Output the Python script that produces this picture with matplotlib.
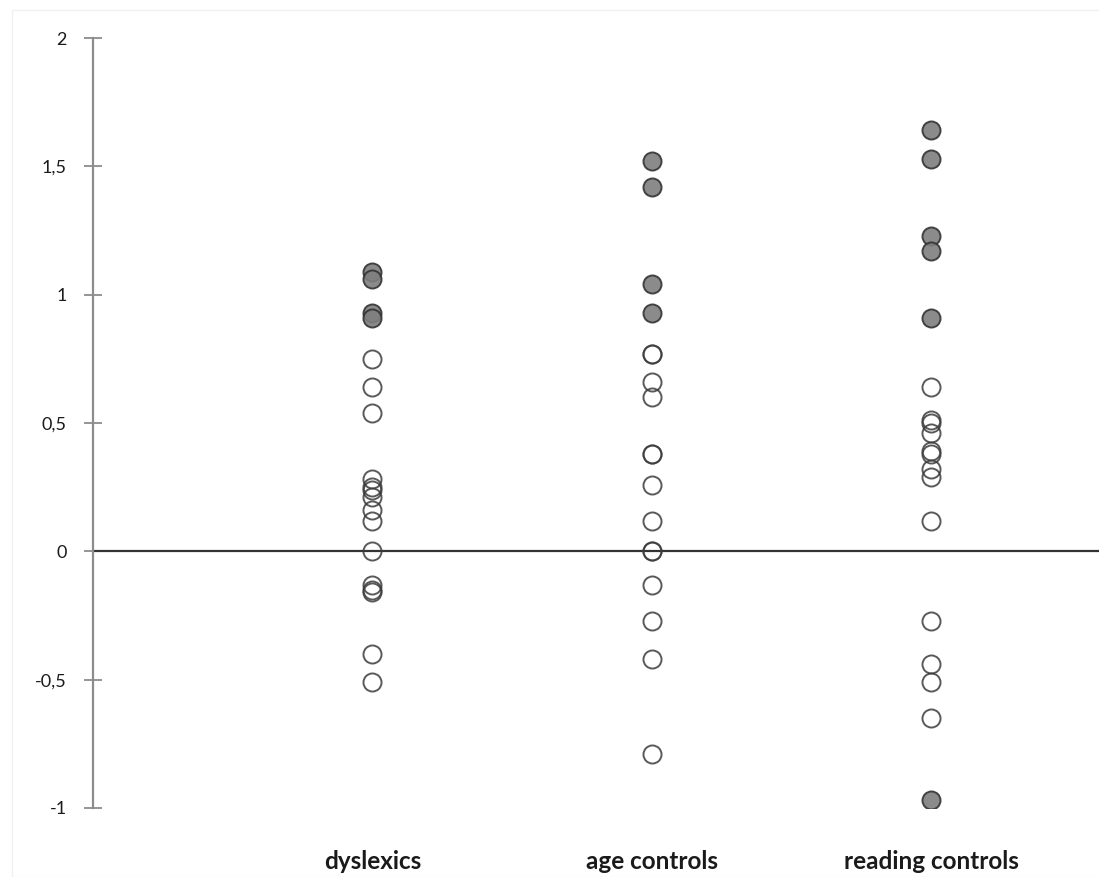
import matplotlib
matplotlib.use("Agg")
import matplotlib.pyplot as plt
from matplotlib.ticker import FuncFormatter

# group labels on the x axis
groups = ["dyslexics", "age controls", "reading controls"]

# scores per group, split by marker style
dyslexics_filled = [1.09, 1.06, 0.93, 0.91]
dyslexics_open = [0.75, 0.64, 0.54, 0.28, 0.25, 0.24, 0.21, 0.16, 0.12, 0.0,
                  -0.13, -0.15, -0.16, -0.40, -0.51]

age_filled = [1.52, 1.42, 1.04, 0.93]
age_open = [0.77, 0.77, 0.66, 0.60, 0.38, 0.38, 0.26, 0.12, 0.0, 0.0,
            -0.13, -0.27, -0.42, -0.79]

reading_filled = [1.64, 1.53, 1.23, 1.17, 0.91, -0.97]
reading_open = [0.64, 0.51, 0.50, 0.46, 0.39, 0.38, 0.32, 0.29, 0.12,
                -0.27, -0.44, -0.51, -0.65]

yticks = [-1, -0.5, 0, 0.5, 1, 1.5, 2]

filled = [dyslexics_filled, age_filled, reading_filled]
hollow = [dyslexics_open, age_open, reading_open]

fig = plt.figure(figsize=(10.99, 8.77), dpi=100)
ax = fig.add_axes([93 / 1099, 69 / 877, 1006 / 1099, 770 / 877])

# faint outer frame of the chart area
fig.patches.append(plt.Rectangle((12 / 1099, 0), 1.0, 867 / 877,
                                 transform=fig.transFigure, fill=False,
                                 edgecolor="#f0f0f0", linewidth=1))

for i in range(len(groups)):
    x = i + 1
    ax.plot([x] * len(hollow[i]), hollow[i], linestyle="none", marker="o",
            markersize=13, markerfacecolor="none", markeredgecolor="#3c3c3c",
            markeredgewidth=1.4, alpha=0.85, zorder=3)
    ax.plot([x] * len(filled[i]), filled[i], linestyle="none", marker="o",
            markersize=13, markerfacecolor="#7f7f7f", markeredgecolor="#333333",
            markeredgewidth=1.4, alpha=0.9, zorder=4)

ax.axhline(0, color="#333333", linewidth=1.6, zorder=2)

ax.set_xlim(0, 3.6)
ax.set_ylim(-1, 2)
ax.set_yticks(yticks)
ax.yaxis.set_major_formatter(FuncFormatter(lambda v, p: f"{v:g}".replace(".", ",")))
ax.set_xticks([1, 2, 3])
ax.set_xticklabels(groups, fontsize=17.5, fontfamily="Lato", fontweight="bold",
                   color="#1a1a1a")

ax.tick_params(axis="x", length=0, pad=30)
ax.tick_params(axis="y", direction="inout", length=13.5, width=1.3,
               color="#8c8c8c", labelsize=13, pad=12, labelcolor="#1a1a1a")
for lab in ax.get_yticklabels():
    lab.set_fontfamily("Lato")

for side in ["top", "right", "bottom"]:
    ax.spines[side].set_visible(False)
ax.spines["left"].set_color("#8c8c8c")
ax.spines["left"].set_linewidth(1.6)

fig.savefig("out.png", dpi=100)
